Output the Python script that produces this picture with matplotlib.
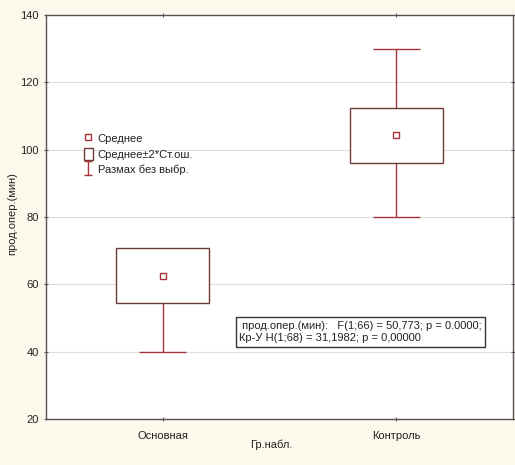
import matplotlib
matplotlib.use("Agg")
import matplotlib.pyplot as plt
from matplotlib.lines import Line2D
from matplotlib.patches import Patch
from matplotlib.path import Path

plt.rcParams['font.family'] = ['Liberation Sans', 'DejaVu Sans']

categories = ["Основная", "Контроль"]
means = [62.5, 104.3]
box_low = [54.4, 95.9]
box_high = [70.7, 112.5]
range_min = [40.0, 80.0]
range_max = [70.7, 130.0]
yticks = [20, 40, 60, 80, 100, 120, 140]
legend_labels = ["Среднее", "Среднее±2*Ст.ош.", "Размах без выбр."]
stat_text = " прод.опер.(мин):   F(1;66) = 50,773; p = 0.0000;\nКр-У H(1;68) = 31,1982; p = 0,00000"

bg = '#fdf8ec'
box_col = '#6e3b3b'
whisk_col = '#a8343a'
fs = 8

fig = plt.figure(figsize=(5.15, 4.65), dpi=100, facecolor=bg)
ax = fig.add_axes([46/515, 46/465, 467/515, 404/465])
ax.set_facecolor('white')

x = list(range(len(categories)))
for i in x:
    if range_max[i] > box_high[i]:
        ax.vlines(i, box_high[i], range_max[i], color=whisk_col, lw=1, zorder=2)
        ax.hlines(range_max[i], i - 0.1, i + 0.1, color=whisk_col, lw=1, zorder=2)
    if range_min[i] < box_low[i]:
        ax.vlines(i, range_min[i], box_low[i], color=whisk_col, lw=1, zorder=2)
        ax.hlines(range_min[i], i - 0.1, i + 0.1, color=whisk_col, lw=1, zorder=2)
ax.bar(x, [h - l for h, l in zip(box_high, box_low)], bottom=box_low, width=0.4,
       facecolor='white', edgecolor=box_col, linewidth=1, zorder=3)
ax.plot(x, means, ls='none', marker='s', ms=5, mfc='white', mec=whisk_col, mew=1, zorder=4)

ax.set_xlim(-0.5, 1.5)
ax.set_ylim(20, 140)
ax.set_yticks(yticks)
ax.set_xticks(x)
ax.set_xticklabels(categories)
ax.grid(axis='y', color='#dedede', lw=0.8)
ax.set_axisbelow(True)
ax.tick_params(direction='inout', length=3, width=0.8, color='#555555', labelsize=fs,
               top=True, right=True, labelcolor='#222222')
ax.tick_params(axis='x', pad=7)
for s in ax.spines.values():
    s.set_color('#555555')
    s.set_linewidth(1)

ax.set_ylabel("прод.опер.(мин)", fontsize=fs, color='#222222', va='center')
ax.yaxis.set_label_coords((12 - 46) / 467, (419 - 214) / 404)
ax.set_xlabel("Гр.набл.", fontsize=fs, color='#222222', va='center')
ax.xaxis.set_label_coords((271 - 46) / 467, (419 - 445) / 404)

ibar = Path([(-0.6, 1), (0.6, 1), (0, 1), (0, -1), (-0.6, -1), (0.6, -1)],
            [Path.MOVETO, Path.LINETO, Path.MOVETO, Path.LINETO, Path.MOVETO, Path.LINETO])
handles = [
    Line2D([], [], ls='none', marker='s', ms=4.5, mfc='white', mec=whisk_col, mew=1),
    Patch(facecolor='white', edgecolor=box_col, lw=1),
    Line2D([], [], ls='none', marker=ibar, ms=10, mec=whisk_col, mew=1),
]
leg = ax.legend(handles, legend_labels, loc='upper left', bbox_to_anchor=(0.0716, 0.7196),
                frameon=False, fontsize=fs, handlelength=0.8, handleheight=1.2,
                handletextpad=0.45, labelspacing=0.36, borderaxespad=0)
for t in leg.get_texts():
    t.set_color('#222222')

ax.text(0.413, 0.243, stat_text, transform=ax.transAxes, fontsize=fs, va='top', ha='left',
        color='#222222', linespacing=1.3,
        bbox=dict(boxstyle='square,pad=0.3', facecolor='white', edgecolor='#333333', lw=1), zorder=5)

fig.savefig("out.png", dpi=100, facecolor=bg)
